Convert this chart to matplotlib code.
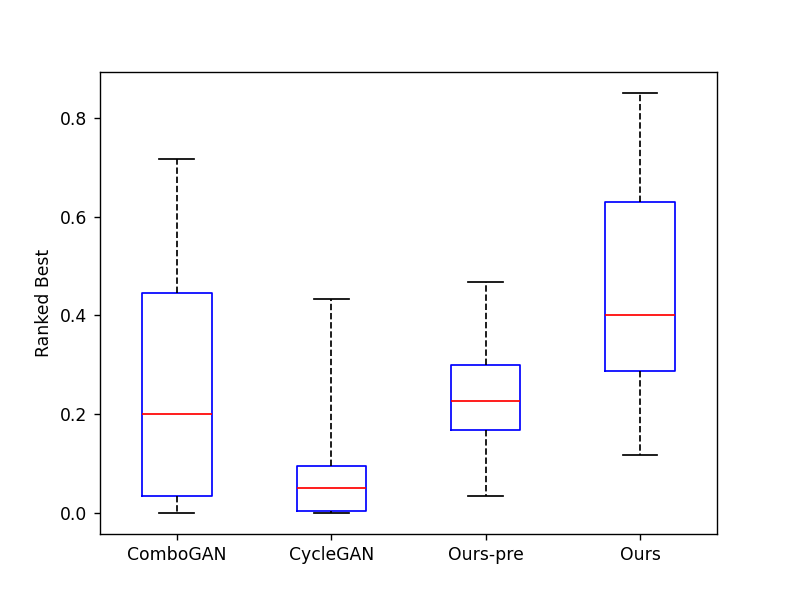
import matplotlib
matplotlib.use("Agg")
import matplotlib.pyplot as plt

labels = ["ComboGAN", "CycleGAN", "Ours-pre", "Ours"]
whislo = [0.0, 0.0, 0.034, 0.117]
q1 = [0.034, 0.004, 0.168, 0.287]
med = [0.200, 0.050, 0.226, 0.400]
q3 = [0.446, 0.096, 0.300, 0.629]
whishi = [0.717, 0.433, 0.467, 0.850]

stats = [dict(label=l, whislo=a, q1=b, med=c, q3=d, whishi=e, fliers=[])
         for l, a, b, c, d, e in zip(labels, whislo, q1, med, q3, whishi)]

dpi = 124.5
fig, ax = plt.subplots(figsize=(797 / dpi, 600 / dpi), dpi=dpi)
ax.bxp(stats, widths=0.45, showfliers=False,
       boxprops=dict(color="blue"),
       medianprops=dict(color="red"),
       whiskerprops=dict(color="black", linestyle="--"),
       capprops=dict(color="black"))
ax.set_ylabel("Ranked Best")
fig.savefig("out.png", dpi=dpi)
